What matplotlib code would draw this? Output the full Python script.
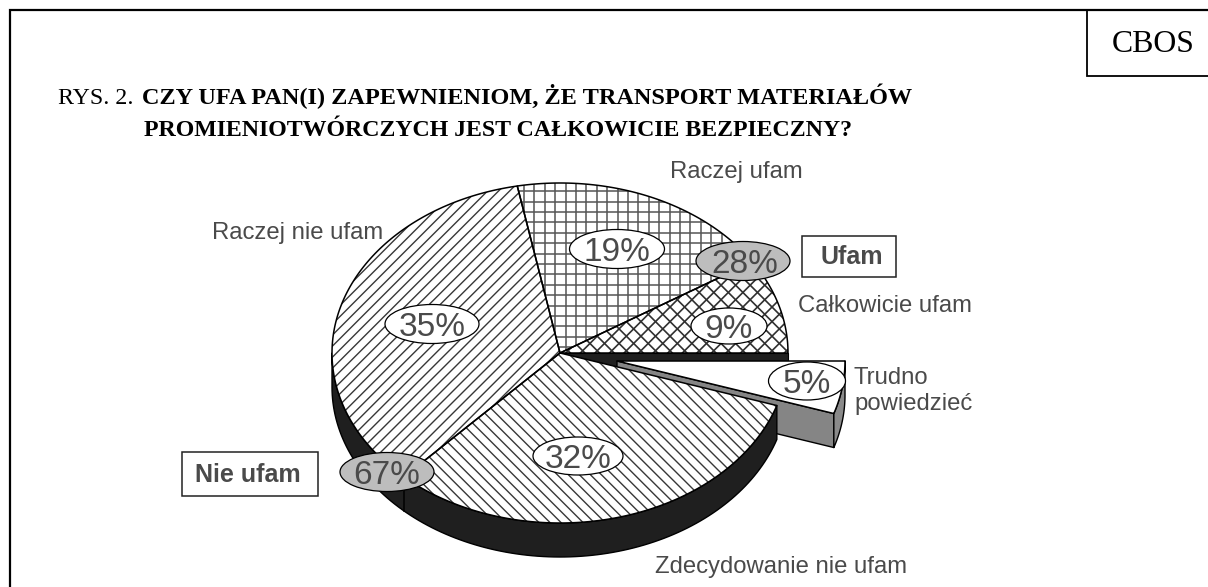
import numpy as np
import matplotlib
matplotlib.use("Agg")
import matplotlib.pyplot as plt
from matplotlib.patches import Polygon, Ellipse, Rectangle
from matplotlib.collections import LineCollection

# ---------- data ----------
slice_names = ["Całkowicie ufam", "Raczej ufam", "Raczej nie ufam", "Zdecydowanie nie ufam", "Trudno\npowiedzieć"]
slice_values = [9, 19, 35, 32, 5]
group_names = ["Ufam", "Nie ufam"]
group_values = [28, 67]
title_prefix = "RYS. 2."
title_line1 = "CZY UFA PAN(I) ZAPEWNIENIOM, ŻE TRANSPORT MATERIAŁÓW"
title_line2 = "PROMIENIOTWÓRCZYCH JEST CAŁKOWICIE BEZPIECZNY?"
source_tag = "CBOS"

# ---------- layout ----------
W, H = 1208, 587
CX, CY, RX, RY, DEPTH = 560, 353, 228, 170, 34
EXPLODE = (57, 8)
TXT = "#4a4a4a"
SANS = "Liberation Sans"
SERIF = "Liberation Serif"

fig = plt.figure(figsize=(W / 100, H / 100), dpi=100)
ax = fig.add_axes([0, 0, 1, 1])
ax.set_xlim(0, W)
ax.set_ylim(H, 0)
ax.axis("off")

cum = np.concatenate([[0], np.cumsum(slice_values)]) * 3.6


def arc(a0, a1, ox=0, oy=0, dz=0):
    t = np.radians(np.linspace(a0, a1, 120))
    return np.column_stack([CX + ox + RX * np.cos(t), CY + oy + dz - RY * np.sin(t)])


def wedge_poly(a0, a1, ox=0, oy=0):
    return np.vstack([[CX + ox, CY + oy], arc(a0, a1, ox, oy)])


def wall(a0, a1, ox=0, oy=0):
    return np.vstack([arc(a0, a1, ox, oy), arc(a1, a0, ox, oy, DEPTH)])


def hatch(patch, angle, spacing, lw, color="black", z=3):
    a = np.radians(angle)
    d = np.array([np.cos(a), -np.sin(a)])
    n = np.array([-d[1], d[0]])
    offs = np.arange(-1400, 1400, spacing)
    segs = [[n * o - d * 1500, n * o + d * 1500] for o in offs]
    lc = LineCollection(segs, colors=color, linewidths=lw, zorder=z)
    ax.add_collection(lc)
    lc.set_clip_path(patch)


def add_poly(pts, fc, z, lw=1.0, ec="black"):
    p = Polygon(pts, closed=True, facecolor=fc, edgecolor=ec, linewidth=lw, zorder=z, joinstyle="round")
    ax.add_patch(p)
    return p


def hatched_wedge(i, specs):
    add_poly(wedge_poly(cum[i], cum[i + 1]), "white", 2.5, lw=0)
    clip = Polygon(wedge_poly(cum[i], cum[i + 1]), closed=True, transform=ax.transData)
    for s in specs:
        hatch(clip, *s)
    add_poly(wedge_poly(cum[i], cum[i + 1]), "none", 4, lw=1.1)


# exploded slice walls and top (behind the main pie)
ex, ey = EXPLODE
a0, a1 = cum[4], cum[5]
tip = arc(a0, a0, ex, ey)[0]
apex = np.array([CX + ex, CY + ey])
add_poly([[CX, CY], [CX + RX, CY], [CX + RX, CY + DEPTH], [CX, CY + DEPTH]], "#1f1f1f", 1, lw=0.8)
add_poly([apex, tip, tip + [0, DEPTH], apex + [0, DEPTH]], "#858585", 1.5)
add_poly(wall(a0, a1, ex, ey), "#8a8a8a", 1.6)
add_poly(wedge_poly(a0, a1, ex, ey), "white", 1.7, lw=1.1)

# main pie wall
add_poly(wall(180, cum[4]), "#1f1f1f", 2, lw=1.0)
div = arc(cum[3], cum[3])[0]
ax.plot([div[0], div[0]], [div[1], div[1] + DEPTH], color="black", lw=1.1, zorder=2.1)

# hatched tops
hatched_wedge(0, [(45, 10.3, 1.2, "#303030"), (-45, 10.3, 1.2, "#303030")])
hatched_wedge(1, [(0, 10.4, 1.1, "#555555"), (90, 10.4, 1.1, "#555555")])
hatched_wedge(2, [(45, 7.8, 1.0, "#383838")])
hatched_wedge(3, [(-45, 7.8, 1.0, "#383838")])

# value ellipses
ell_centers = {"9": (729, 326, 76, 36), "19": (617, 249, 95, 39), "35": (432, 324, 94, 39),
               "32": (578, 456, 90, 38), "5": (807, 381, 77, 38)}
for v in slice_values:
    x, y, w, h = ell_centers[str(v)]
    ax.add_patch(Ellipse((x, y), w, h, fc="white", ec="black", lw=0.9, zorder=6))
    ax.text(x, y, f"{v}%", family=SANS, fontsize=24, color=TXT, ha="center", va="center_baseline", zorder=7)
for v, (x, y, tx) in zip(group_values, [(743, 261, 745), (387, 472, 387)]):
    ax.add_patch(Ellipse((x, y), 94, 39, fc="#bdbdbd", ec="black", lw=0.9, zorder=6))
    ax.text(tx, y, f"{v}%", family=SANS, fontsize=24, color=TXT, ha="center", va="center_baseline", zorder=7)

# slice labels
label_pos = [(798, 306), (670, 172), (212, 233), (655, 567)]
for name, (x, y) in zip(slice_names[:4], label_pos):
    ax.text(x, y, name, family=SANS, fontsize=17.2, color=TXT, ha="left", va="center", zorder=7)
ax.text(854, 391, slice_names[4], family=SANS, fontsize=17.2, color=TXT, ha="left", va="center",
        linespacing=1.25, zorder=7)

# group boxes
for name, (x0, y0, x1, y1), tx in zip(group_names, [(802, 236, 896, 277), (182, 452, 318, 496)], [820, 195]):
    ax.add_patch(Rectangle((x0, y0), x1 - x0, y1 - y0, fc="white", ec="#222222", lw=1.1, zorder=5))
    ax.text(tx, (y0 + y1) / 2 + 1, name, family=SANS, weight="bold", fontsize=18, color=TXT,
            ha="left", va="center", zorder=7)

# frame and tag
ax.plot([10, 10, W], [H, 10, 10], color="black", lw=1.6, solid_joinstyle="miter", zorder=8, clip_on=False)
ax.plot([1087, 1087, W], [10, 76, 76], color="black", lw=1.3, solid_joinstyle="miter", zorder=8)
ax.text(1153, 44, source_tag, family=SERIF, fontsize=22.9, color="black", ha="center", va="center")

# title
ax.text(58, 104, title_prefix, family=SERIF, fontsize=17.2, color="black", ha="left", va="baseline")
ax.text(142, 104, title_line1, family=SERIF, weight="bold", fontsize=17.45, color="black", ha="left", va="baseline")
ax.text(144, 136, title_line2, family=SERIF, weight="bold", fontsize=17.2, color="black", ha="left", va="baseline")

fig.savefig("out.png", dpi=100)
